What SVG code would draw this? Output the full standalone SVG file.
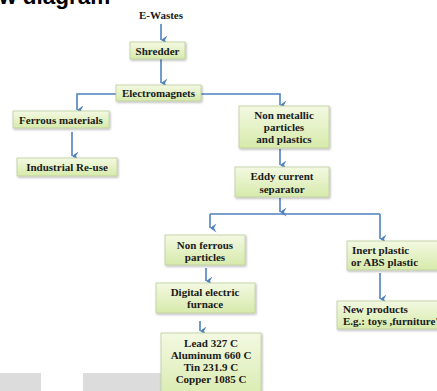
<svg xmlns="http://www.w3.org/2000/svg" width="437" height="391" viewBox="0 0 437 391">
<defs>
<linearGradient id="g" x1="0" y1="0" x2="0" y2="1">
<stop offset="0" stop-color="#f3f9e2"/>
<stop offset="1" stop-color="#d7eaab"/>
</linearGradient>
<filter id="sh" x="-10%" y="-10%" width="130%" height="140%">
<feDropShadow dx="1" dy="1.2" stdDeviation="0.8" flood-color="#000" flood-opacity="0.3"/>
</filter>
<marker id="ah" markerUnits="userSpaceOnUse" markerWidth="9" markerHeight="9" viewBox="0 0 9 9" refX="4.5" refY="8" orient="auto-start-reverse">
<path d="M0,1.5 L4.5,8 L9,1.5 L4.5,4 Z" fill="#4f81bd"/>
</marker>
</defs>
<style>
.box{fill:url(#g);stroke:#bccd9e;stroke-width:0.8;filter:url(#sh)}
.t{font-family:"Liberation Serif","Times New Roman",serif;font-weight:bold;font-size:11px;fill:#1a1a1a;text-anchor:middle}
.l{text-anchor:start}
.c{fill:none;stroke:#4f81bd;stroke-width:1.6}
.a{marker-end:url(#ah)}
.title{font-family:"Liberation Sans",Arial,sans-serif;font-weight:bold;font-size:22.5px;fill:#000}
</style>
<rect width="437" height="391" fill="#fff"/>
<text class="title" x="-1" y="4">w diagram</text>
<rect x="0" y="373" width="41" height="18" fill="#dcdcdc"/>
<rect x="83" y="373" width="80" height="18" fill="#dcdcdc"/>

<g id="connectors">
<path class="c a" d="M161,24 V40"/>
<path class="c a" d="M161,59 V83"/>
<path class="c a" d="M116,94 H77 V110"/>
<path class="c a" d="M201,94 H280 V105"/>
<path class="c a" d="M72,132 V156"/>
<path class="c a" d="M280,149 V165"/>
<path class="c a" d="M280,198 V212"/>
<path class="c" d="M210,214 H380"/>
<path class="c a" d="M210,214 V228"/>
<path class="c a" d="M380,214 V239"/>
<path class="c a" d="M206,268 V281"/>
<path class="c a" d="M200,321 V331"/>
<path class="c a" d="M380,273 V299"/>
</g>

<g id="ewastes"><text class="t" x="161" y="19">E-Wastes</text></g>
<g id="shredder"><rect class="box" x="130" y="42" width="55" height="17"/><text class="t" x="157.5" y="54.5">Shredder</text></g>
<g id="electromagnets"><rect class="box" x="116" y="85" width="85" height="16"/><text class="t" x="158.5" y="97">Electromagnets</text></g>
<g id="ferrous"><rect class="box" x="13" y="111" width="96" height="17"/><text class="t" x="61" y="123.5">Ferrous materials</text></g>
<g id="industrial"><rect class="box" x="17" y="158" width="100" height="18"/><text class="t" x="67" y="170.5">Industrial Re-use</text></g>
<g id="nonmetallic"><rect class="box" x="239" y="106" width="90" height="42"/>
<text class="t" x="284" y="118.5">Non metallic</text><text class="t" x="284" y="130.5">particles</text><text class="t" x="284" y="142.5">and plastics</text></g>
<g id="eddy"><rect class="box" x="235" y="167" width="94" height="30"/>
<text class="t" x="282" y="180">Eddy current</text><text class="t" x="282" y="193">separator</text></g>
<g id="nonferrous"><rect class="box" x="165" y="235" width="80" height="30"/>
<text class="t" x="205" y="249">Non ferrous</text><text class="t" x="205" y="261">particles</text></g>
<g id="furnace"><rect class="box" x="156" y="283" width="99" height="30"/>
<text class="t" x="205" y="296">Digital electric</text><text class="t" x="205" y="308">furnace</text></g>
<g id="metals"><rect class="box" x="161" y="333" width="100" height="70"/>
<text class="t" x="211" y="347">Lead 327 C</text><text class="t" x="211" y="359">Aluminum  660 C</text><text class="t" x="211" y="371">Tin  231.9  C</text><text class="t" x="211" y="383">Copper  1085 C</text></g>
<g id="inert"><rect class="box" x="347" y="241" width="92" height="29"/>
<text class="t l" x="352" y="254">Inert plastic</text><text class="t l" x="351" y="266">or ABS plastic</text></g>
<g id="newproducts"><rect class="box" x="337" y="301" width="102" height="28"/>
<text class="t l" x="343" y="313">New products</text><text class="t l" x="343" y="325">E.g.: toys ,furniture'</text></g>
</svg>
